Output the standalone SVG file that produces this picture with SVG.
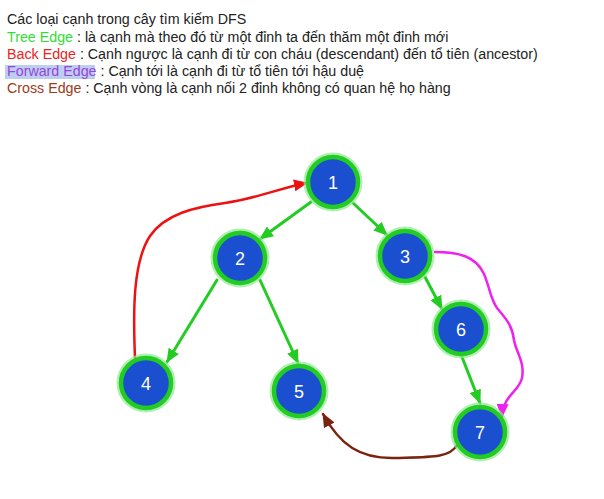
<svg xmlns="http://www.w3.org/2000/svg" width="604" height="499" viewBox="0 0 604 499">
<style>
.t{font-family:"Liberation Sans",Arial,sans-serif;font-size:14.25px;fill:#222}
.glow{fill:none;stroke:#8fe88f;stroke-width:4;opacity:.7}
.nd{fill:#1a4fd0;stroke:#22cc22;stroke-width:4.5}
.lb{font-family:"Liberation Sans",Arial,sans-serif;font-size:18px;fill:#fff;text-anchor:middle}
.e{fill:none;stroke-width:2.5;stroke-linecap:round}
.tree{stroke:#22cc22;stroke-width:3}
</style>
<defs>
<marker id="ag" viewBox="0 0 14 12" refX="13" refY="6" markerWidth="14" markerHeight="12" markerUnits="userSpaceOnUse" orient="auto"><path d="M0,0 L14,6 L0,12 Z" fill="#22cc22"/></marker>
<marker id="ar" viewBox="0 0 14 12" refX="13" refY="6" markerWidth="14" markerHeight="12" markerUnits="userSpaceOnUse" orient="auto"><path d="M0,0 L14,6 L0,12 Z" fill="#ee1111"/></marker>
<marker id="am" viewBox="0 0 14 12" refX="13" refY="6" markerWidth="14" markerHeight="12" markerUnits="userSpaceOnUse" orient="auto"><path d="M0,0 L14,6 L0,12 Z" fill="#ee22ee"/></marker>
<marker id="ab" viewBox="0 0 14 12" refX="13" refY="6" markerWidth="14" markerHeight="12" markerUnits="userSpaceOnUse" orient="auto"><path d="M0,0 L14,6 L0,12 Z" fill="#7a2410"/></marker>
</defs>
<rect width="604" height="499" fill="#fff"/>
<g id="legend">
<rect x="5" y="65" width="90" height="14" fill="#bccff0"/>
<text class="t" x="7" y="24">Các loại cạnh trong cây tìm kiếm DFS</text>
<text class="t" x="7" y="42"><tspan fill="#33dd33">Tree Edge</tspan> : là cạnh mà theo đó từ một đỉnh ta đến thăm một đỉnh mới</text>
<text class="t" x="7" y="59"><tspan fill="#ee2222">Back Edge</tspan> : Cạnh ngược là cạnh đi từ con cháu (descendant) đến tổ tiên (ancestor)</text>
<text class="t" x="7" y="76"><tspan fill="#9944dd">Forward Edge</tspan> : Cạnh tới là cạnh đi từ tổ tiên tới hậu duệ</text>
<text class="t" x="7" y="93"><tspan fill="#a03a1a">Cross Edge</tspan> : Cạnh vòng là cạnh nối 2 đỉnh không có quan hệ họ hàng</text>
</g>
<g id="edges">
<path class="e tree" d="M311,202 L260,239" marker-end="url(#ag)"/>
<path class="e tree" d="M353,203 L387,235" marker-end="url(#ag)"/>
<path class="e tree" d="M217,280 L167,362" marker-end="url(#ag)"/>
<path class="e tree" d="M260,280 L298,363" marker-end="url(#ag)"/>
<path class="e tree" d="M425,277 L442,309" marker-end="url(#ag)"/>
<path class="e tree" d="M462,357 L480,403" marker-end="url(#ag)"/>
<path class="e" stroke="#ee1111" d="M135,358 C133,310 133,262 150,236 C165,214 195,207 225,203 C255,199 280,188 307,183" marker-end="url(#ar)"/>
<path class="e" stroke="#ee22ee" d="M435,252 C458,252 476,256 484,274 C490,288 490,298 497,308 C505,318 512,324 514,340 C516,352 525,362 522,378 C519,392 503,395 502,417" marker-end="url(#am)"/>
<path class="e" stroke="#7a2410" d="M457,445 C450,458 430,457 395,458 C360,459 340,445 323,414" marker-end="url(#ab)"/>
</g>
<g id="n1"><circle class="glow" cx="333" cy="182" r="27.5"/><circle class="nd" cx="333" cy="182" r="25"/><text class="lb" x="333" y="188.5">1</text></g>
<g id="n2"><circle class="glow" cx="240" cy="258" r="27.5"/><circle class="nd" cx="240" cy="258" r="25"/><text class="lb" x="240" y="264.5">2</text></g>
<g id="n3"><circle class="glow" cx="405" cy="256" r="27.5"/><circle class="nd" cx="405" cy="256" r="25"/><text class="lb" x="405" y="262.5">3</text></g>
<g id="n4"><circle class="glow" cx="146" cy="383" r="27.5"/><circle class="nd" cx="146" cy="383" r="25"/><text class="lb" x="146" y="389.5">4</text></g>
<g id="n5"><circle class="glow" cx="299" cy="391" r="27.5"/><circle class="nd" cx="299" cy="391" r="25"/><text class="lb" x="299" y="397.5">5</text></g>
<g id="n6"><circle class="glow" cx="461" cy="329" r="27.5"/><circle class="nd" cx="461" cy="329" r="25"/><text class="lb" x="461" y="335.5">6</text></g>
<g id="n7"><circle class="glow" cx="480" cy="432" r="27.5"/><circle class="nd" cx="480" cy="432" r="25"/><text class="lb" x="480" y="438.5">7</text></g>
</svg>
